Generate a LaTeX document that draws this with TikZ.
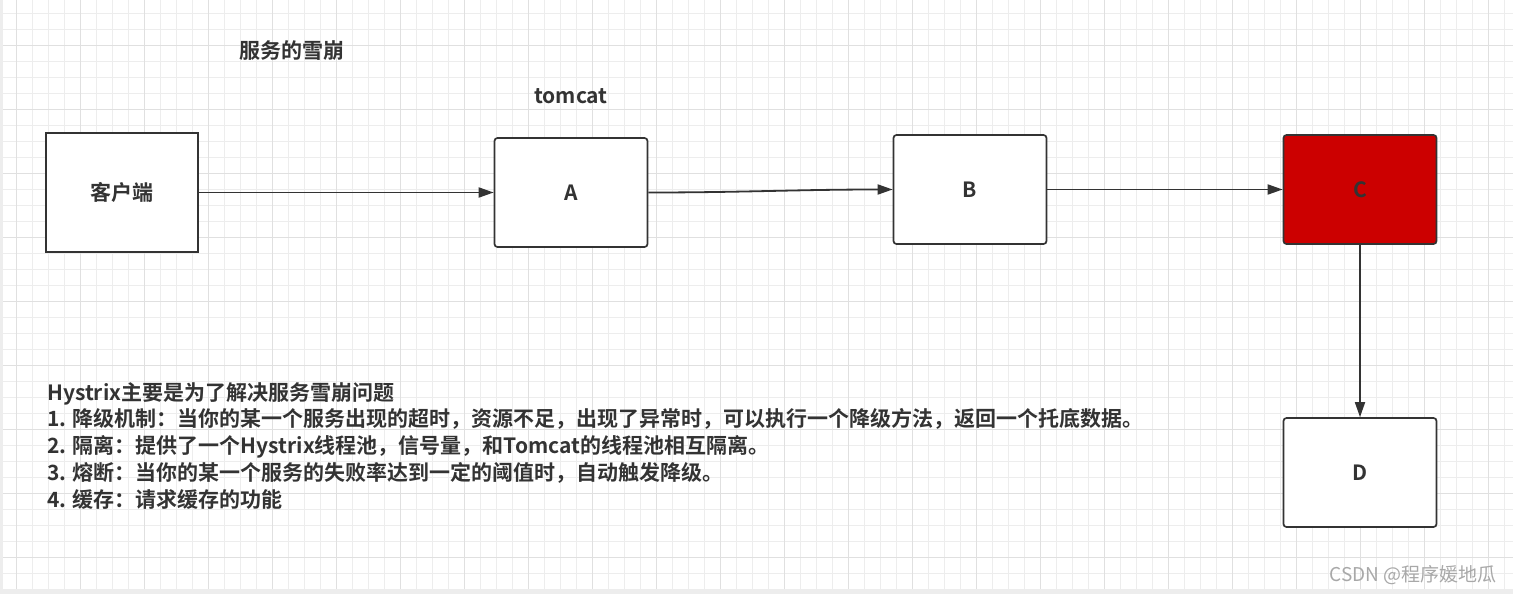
\documentclass[tikz,border=0pt]{standalone}
\usepackage{fontspec}
\setmainfont{Noto Sans CJK SC}[BoldFont={Noto Sans CJK SC Bold}]
\usetikzlibrary{arrows.meta}
\definecolor{ink}{HTML}{333333}
\definecolor{gridminor}{HTML}{EDEDED}
\definecolor{gridmajor}{HTML}{E0E0E0}
\definecolor{failred}{HTML}{CC0000}
\definecolor{mark}{HTML}{A8A8A8}

\begin{document}
\begin{tikzpicture}
        [x=1pt, y=-1pt,
        service/.style={draw=ink, line width=1.7pt, rounded corners=3pt, fill=white,
          minimum width=153pt, minimum height=109pt, text=ink,
          font=\fontsize{21}{25}\selectfont\bfseries},
        client/.style={service, rounded corners=0pt, minimum width=152pt, minimum height=119pt},
        failed/.style={service, fill=failred},
        call/.style={draw=ink, line width=1.8pt, -{Triangle[length=15pt,width=10pt]}},
        label/.style={text=ink, inner sep=0pt, font=\fontsize{21}{25}\selectfont\bfseries}]

        \useasboundingbox (0,0) rectangle (1513,594);
        \fill[white] (0,0) rectangle (1513,594);

        % background grid
        \foreach \gx in {0,16,...,1512}
            \draw[gridminor, line width=0.8pt] (\gx,0) -- (\gx,594);
        \foreach \gy in {13.3,29.3,...,590}
            \draw[gridminor, line width=0.8pt] (0,\gy) -- (1513,\gy);
        \foreach \gx in {16,80,...,1512}
            \draw[gridmajor, line width=0.9pt] (\gx,0) -- (\gx,594);
        \foreach \gy in {45.3,109.3,...,590}
            \draw[gridmajor, line width=0.9pt] (0,\gy) -- (1513,\gy);
        \fill[gridminor] (0,0) rectangle (3,594);
        \fill[gridminor] (0,589) rectangle (1513,594);

        % services
        \node[client] (client) at (122,192.5) {客户端};
        \node[service] (a) at (571,192.5) {A};
        \node[service] (b) at (970,189.5) {B};
        \node[failed] (c) at (1360,189.5) {C};
        \node[service] (d) at (1360,472.5) {D};

        % titles
        \node[label] (title) at (292,51) {服务的雪崩};
        \node[label] (tomcat) at (571,96) {tomcat};

        % calls
        \draw[call] (client) -- (a);
        \draw[call] (a.east) to[out=0, in=180] (b.west);
        \draw[call] (b) -- (c);
        \draw[call] (c) -- (d);

        % notes
        \node[label, anchor=north west, align=left,
          font=\fontsize{21}{26.75}\selectfont\bfseries] (notes) at (47,382)
          {Hystrix主要是为了解决服务雪崩问题\\
           1. 降级机制：当你的某一个服务出现的超时，资源不足，出现了异常时，可以执行一个降级方法，返回一个托底数据。\\
           2. 隔离：提供了一个Hystrix线程池，信号量，和Tomcat的线程池相互隔离。\\
           3. 熔断：当你的某一个服务的失败率达到一定的阈值时，自动触发降级。\\
           4. 缓存：请求缓存的功能};

        \node[text=mark, inner sep=0pt, anchor=east, font=\fontsize{19}{22}\selectfont]
          (watermark) at (1497,575) {CSDN @程序媛地瓜};

        \end{tikzpicture}
\end{document}
